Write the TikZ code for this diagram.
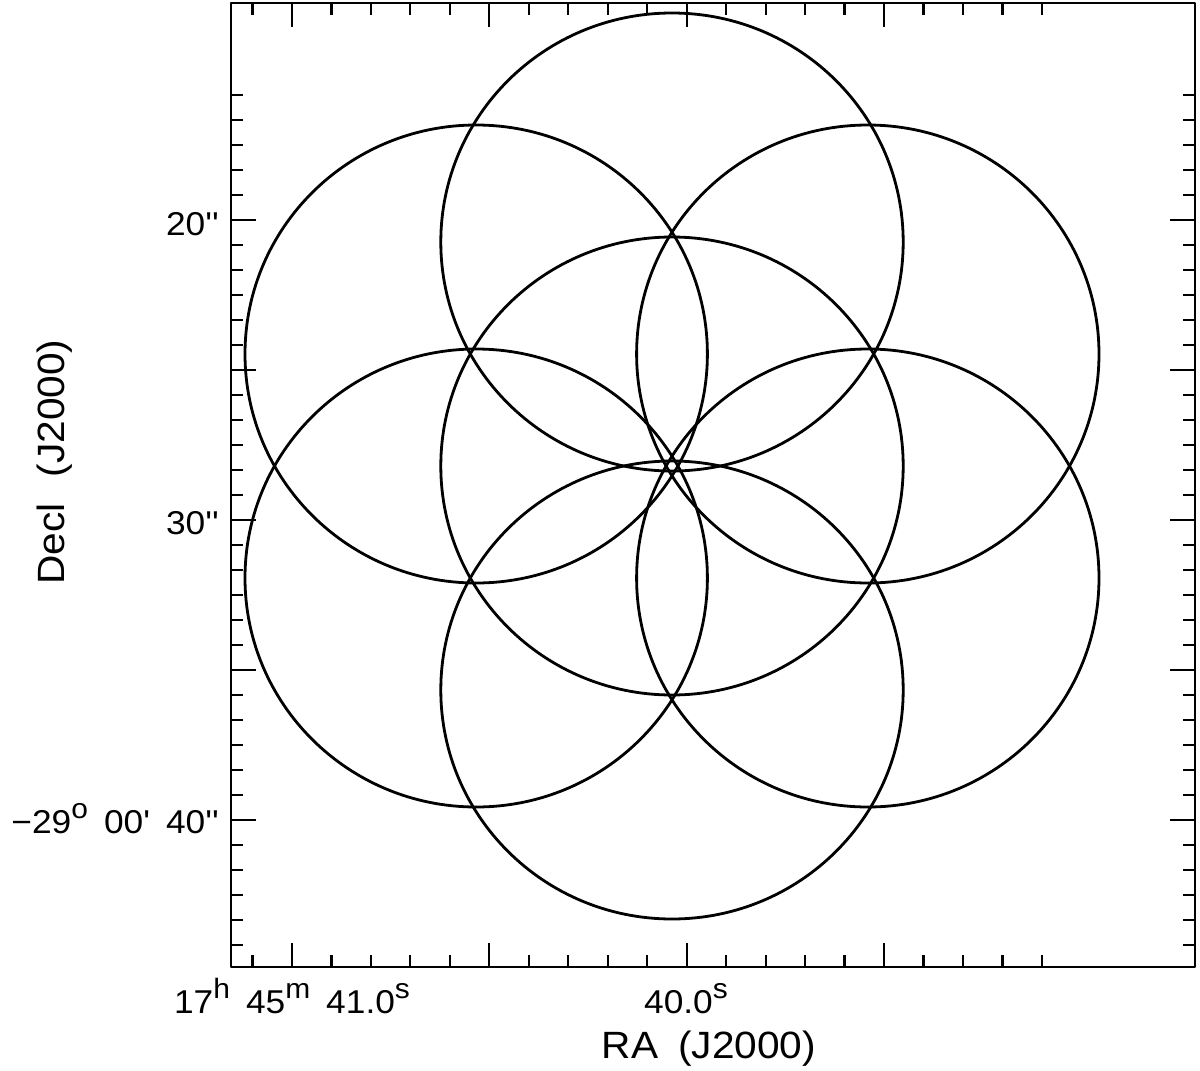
\documentclass[tikz,border=0pt]{standalone}
\usepackage{fontspec}
\setmainfont{Liberation Sans}[Ligatures=TeXOff, FakeStretch=1.07]
\newcommand\sps[1]{\raisebox{15pt}{\fontsize{28}{28}\selectfont #1}}
\begin{document}
\begin{tikzpicture}[x=1pt,y=-1pt,line join=round]
\tikzset{
  ring/.style={line width=2.8pt},
  frame/.style={line width=2.4pt},
  tick/.style={line width=2.2pt},
  ticklab/.style={font=\fontsize{33}{36}\selectfont, inner sep=0pt},
  axlab/.style={font=\fontsize{38}{40}\selectfont, inner sep=0pt}
}
\useasboundingbox (0,0) rectangle (1200,1071);
% field circles
\foreach \cx/\cy in {672/466, 672/242, 672/690, 476.2/354, 476.2/578, 867.8/354, 867.8/578}
  \draw[ring] (\cx,\cy) ellipse [x radius=231.2, y radius=229];
% frame
\draw[frame] (231,3) rectangle (1195,967);
% Dec ticks
\foreach \k in {0,...,34}{
  \pgfmathsetmacro\yy{95+25*\k}
  \pgfmathsetmacro\len{ifthenelse(mod(\k+1,6)==0,25,12)}
  \draw[tick] (231,\yy) -- ++(\len,0);
  \draw[tick] (1195,\yy) -- ++(-\len,0);
}
% RA ticks
\foreach \k in {0,...,20}{
  \pgfmathsetmacro\xx{252.5+39.47*\k}
  \pgfmathsetmacro\len{ifthenelse(mod(\k+4,5)==0,24,12)}
  \draw[tick] (\xx,967) -- ++(0,-\len);
  \draw[tick] (\xx,3) -- ++(0,\len);
}
% tick labels
\node[ticklab, anchor=base east] (l20) at (219,235) {20''};
\node[ticklab, anchor=base east] (l30) at (219,534) {30''};
\node[ticklab, anchor=base east] (l40) at (219,833) {−29\sps{o}\hspace{16pt}00'\hspace{16pt}40''};
\node[ticklab, anchor=base] (r41) at (292,1013) {17\sps{h}\hspace{16pt}45\sps{m}\hspace{16pt}41.0\sps{s}};
\node[ticklab, anchor=base] (r40) at (686,1013) {40.0\sps{s}};
% axis titles
\node[axlab, anchor=base] (ra) at (709,1058) {RA\hspace{20pt}(J2000)};
\node[axlab, anchor=base, rotate=90] (dec) at (64,462) {Decl\hspace{26pt}(J2000)};
\end{tikzpicture}
\end{document}
